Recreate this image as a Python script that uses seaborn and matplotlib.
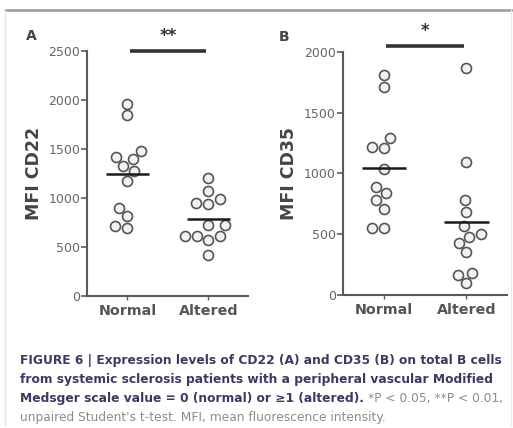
import numpy as np
import pandas as pd
import matplotlib
matplotlib.use("Agg")
import matplotlib.pyplot as plt
import seaborn as sns

# Group labels
groups = ["Normal", "Altered"]

# MFI CD22 per patient
cd22_normal = [1960, 1840, 1390, 1480, 1420, 1320, 1270, 1170, 900, 810, 690, 710]
cd22_altered = [1200, 1070, 950, 940, 985, 720, 720, 610, 610, 570, 610, 415]

# MFI CD35 per patient
cd35_normal = [1810, 1710, 1290, 1205, 1215, 1035, 780, 835, 890, 705, 550, 550]
cd35_altered = [1870, 1095, 780, 685, 570, 425, 480, 500, 350, 180, 95, 165]

# Significance brackets (level, stars)
sig_cd22 = (2500, "**")
sig_cd35 = (2050, "*")

panel_letters = ["A", "B"]
y_labels = ["MFI CD22", "MFI CD35"]
y_ticks_cd22 = [0, 500, 1000, 1500, 2000, 2500]
y_ticks_cd35 = [0, 500, 1000, 1500, 2000]

caption_bold_1 = "FIGURE 6 | Expression levels of CD22 (A) and CD35 (B) on total B cells"
caption_bold_2 = "from systemic sclerosis patients with a peripheral vascular Modified"
caption_bold_3 = "Medsger scale value = 0 (normal) or \u22651 (altered)."
caption_reg_3 = "*P < 0.05, **P < 0.01,"
caption_reg_4 = "unpaired Student's t-test. MFI, mean fluorescence intensity."

sns.set_style("ticks")
plt.rcParams["font.family"] = ["DejaVu Sans"]

fig = plt.figure(figsize=(5.13, 4.28), dpi=100)
fig.patch.set_facecolor("white")

axes_pos = [[0.1696, 0.3091, 0.3138, 0.5724],
            [0.6680, 0.3107, 0.3197, 0.5685]]

panels = [
    (cd22_normal, cd22_altered, sig_cd22, y_ticks_cd22),
    (cd35_normal, cd35_altered, sig_cd35, y_ticks_cd35),
]

spine_col = "#5a5a5a"
for k, (vn, va, sig, yt) in enumerate(panels):
    ax = fig.add_axes(axes_pos[k])
    df = pd.DataFrame({
        "group": [groups[0]] * len(vn) + [groups[1]] * len(va),
        "value": vn + va,
    })
    sns.swarmplot(data=df, x="group", y="value", order=groups, ax=ax,
                  size=7.2, color="#f2f2f2", edgecolor="#555555",
                  linewidth=1.2, zorder=2)
    for i, vals in enumerate([vn, va]):
        m = np.mean(vals)
        ax.hlines(m, i - 0.27, i + 0.27, color="#1a1a1a", lw=1.8, zorder=4)
    ax.set_xlim(-0.5, 1.49)
    ax.set_ylim(0, yt[-1])
    ax.set_yticks(yt)
    ax.set_yticklabels([str(t) for t in yt], fontsize=9, color="#666666")
    ax.set_xticks([0, 1])
    ax.set_xticklabels(groups, fontsize=10.3, color="#555555", fontweight="semibold")
    ax.tick_params(axis="y", length=4, width=1.2, color=spine_col, pad=1)
    ax.tick_params(axis="x", length=3, width=1.0, color=spine_col, pad=3)
    ax.set_xlabel("")
    ax.set_ylabel(y_labels[k], fontsize=12.5, fontweight="bold", color="#444444", labelpad=4)
    for s in ["top", "right"]:
        ax.spines[s].set_visible(False)
    for s in ["left", "bottom"]:
        ax.spines[s].set_color(spine_col)
        ax.spines[s].set_linewidth(1.5)
    level, stars = sig
    ax.plot([0.03, 0.97], [level, level], color="#333333", lw=2.6,
            clip_on=False, solid_capstyle="butt")
    px_per_unit = (axes_pos[k][3] * 428) / yt[-1]
    ax.text(0.5, level + 15 / px_per_unit, stars, ha="center", va="center",
            fontsize=12, fontweight="bold", color="#333333", clip_on=False)

fig.text(31 / 513, 1 - 36 / 428, panel_letters[0], fontsize=10, fontweight="bold",
         color="#444444", ha="center", va="center")
fig.text(284 / 513, 1 - 37 / 428, panel_letters[1], fontsize=10, fontweight="bold",
         color="#444444", ha="center", va="center")

# Page frame lines
fig.add_artist(plt.Line2D([5 / 513, 1], [1 - 9.5 / 428] * 2, color="#9a9a9a", lw=1.8))
fig.add_artist(plt.Line2D([5 / 513, 5 / 513], [3 / 428, 1 - 10 / 428], color="#e2e2e2", lw=1.0))
fig.add_artist(plt.Line2D([511 / 513, 511 / 513], [3 / 428, 1 - 10 / 428], color="#ececec", lw=1.0))

# Caption
cap_font = ["DejaVu Sans"]
bold_col = "#3a3a62"
reg_col = "#8c8c8c"
cap_size = 8.8
x0 = 20 / 513
ys = [1 - 364 / 428, 1 - 383 / 428, 1 - 402 / 428, 1 - 421 / 428]
fig.text(x0, ys[0], caption_bold_1, fontsize=cap_size, fontweight="bold",
         color=bold_col, family=cap_font, va="baseline")
fig.text(x0, ys[1], caption_bold_2, fontsize=cap_size, fontweight="bold",
         color=bold_col, family=cap_font, va="baseline")
t3 = fig.text(x0, ys[2], caption_bold_3, fontsize=cap_size, fontweight="bold",
              color=bold_col, family=cap_font, va="baseline")
fig.text(x0, ys[3], caption_reg_4, fontsize=cap_size, color=reg_col,
         family=cap_font, va="baseline")
fig.canvas.draw()
bb = t3.get_window_extent(renderer=fig.canvas.get_renderer())
fig.text((bb.x1 + 4) / fig.bbox.width, ys[2], caption_reg_3, fontsize=cap_size,
         color=reg_col, family=cap_font, va="baseline")

fig.savefig("out.png", dpi=100, facecolor="white")
